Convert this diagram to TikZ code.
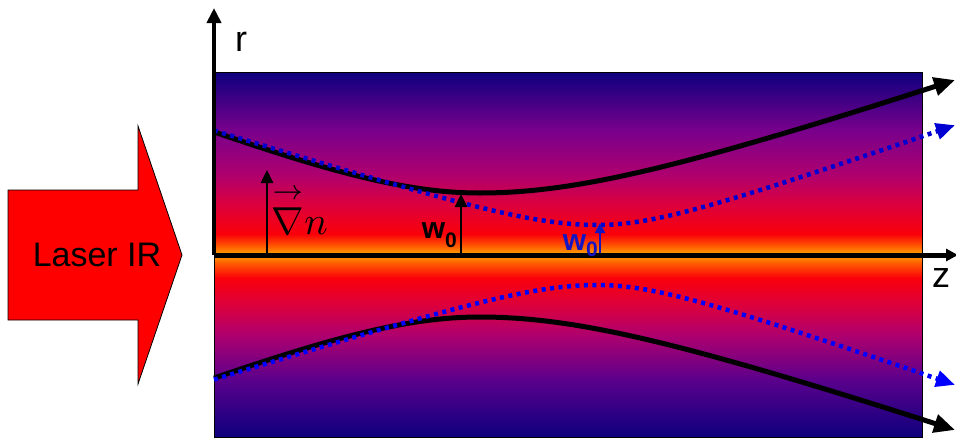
\documentclass[tikz,border=0pt]{standalone}
\usepackage{amsmath}
\usepackage{fontspec}
\setmainfont{Liberation Sans}
\usetikzlibrary{arrows.meta}
\definecolor{deepnavy}{RGB}{13,0,125}
\definecolor{deeppurple}{RGB}{90,0,140}
\definecolor{midpurple}{RGB}{120,0,140}
\definecolor{magent}{RGB}{175,0,110}
\definecolor{rosered}{RGB}{220,0,60}
\definecolor{hotred}{RGB}{250,0,10}
\definecolor{hotorange}{RGB}{255,100,0}
\definecolor{hotcore}{RGB}{255,170,0}
\definecolor{beamblue}{RGB}{0,0,210}
\definecolor{beambluelow}{RGB}{0,0,255}
\definecolor{waistblue}{RGB}{20,20,195}
\pgfdeclareverticalshading{fiber}{100bp}{color(0bp)=(deepnavy); color(25bp)=(deepnavy); color(32.8bp)=(deeppurple); color(39bp)=(magent); color(43.1bp)=(rosered); color(46.8bp)=(hotred); color(49bp)=(hotorange); color(50bp)=(hotcore); color(51bp)=(hotorange); color(52.8bp)=(hotred); color(56.8bp)=(rosered); color(60.9bp)=(magent); color(67bp)=(midpurple); color(75bp)=(deepnavy); color(100bp)=(deepnavy)}

\begin{document}
\begin{tikzpicture}[x=1pt, y=-1pt,
    beam/.style={line width=5pt, -{Triangle[length=21pt,width=18pt]}},
    dotbeam/.style={line width=4.5pt, dash pattern=on 4pt off 4.5pt, -{Triangle[length=19pt,width=16pt]}},
    vecarrow/.style={line width=2.5pt, -{Triangle[length=13pt,width=12pt]}},
    lbl/.style={inner sep=0pt, font=\fontsize{36}{36}\selectfont}]
    \useasboundingbox (0,0) rectangle (956,437);

    \shade[shading=fiber] (214,72) rectangle (922,437);
    \draw[line width=1pt] (214,72) rectangle (922,437);

    \draw[beam] plot[smooth, domain=214:480, samples=30] (\x, {255-62*sqrt(1+((\x-480)/155)^2)})
        -- plot[smooth, domain=480:955, samples=40] (\x, {255-62*sqrt(1+((\x-480)/180)^2)});
    \draw[beam] plot[smooth, domain=214:480, samples=30] (\x, {255+62*sqrt(1+((\x-480)/155)^2)})
        -- plot[smooth, domain=480:955, samples=40] (\x, {255+62*sqrt(1+((\x-480)/180)^2)});
    \draw[dotbeam, beamblue] plot[smooth, domain=214:597, samples=40] (\x, {255-30*sqrt(1+((\x-597)/95)^2)})
        -- plot[smooth, domain=597:955, samples=40] (\x, {255-30*sqrt(1+((\x-597)/85)^2)});
    \draw[dotbeam, beambluelow] plot[smooth, domain=214:597, samples=40] (\x, {255+30*sqrt(1+((\x-597)/95)^2)})
        -- plot[smooth, domain=597:955, samples=40] (\x, {255+30*sqrt(1+((\x-597)/85)^2)});

    \coordinate (origin) at (214,255);
    \coordinate (rtip) at (214,8);
    \coordinate (ztip) at (958,255);
    \coordinate (gradbase) at (267,255);
    \coordinate (gradtop) at (267,170);
    \coordinate (waistbase) at (461,255);
    \coordinate (waisttop) at (461,194);
    \coordinate (bluebase) at (600,255);
    \coordinate (bluetop) at (600,223);

    \draw[vecarrow] (gradbase) -- (gradtop);
    \draw[vecarrow] (waistbase) -- (waisttop);
    \draw[waistblue, line width=2pt, -{Triangle[length=10pt,width=10pt]}] (bluebase) -- (bluetop);

    \draw[line width=4pt, -{Triangle[length=15pt,width=14pt]}] (origin) -- (rtip);
    \draw[line width=5pt, -{Triangle[length=12pt,width=12pt]}] (origin) -- (ztip);

    \node[lbl] (rlabel) at (241,42) {r};
    \node[lbl] (zlabel) at (941,278) {z};

    \node[inner sep=0pt, anchor=base west, scale=3.9] (gradn) at (271,234) {$\overset{\rightarrow}{\nabla}n$};
    \node[inner sep=0pt, anchor=base east, font=\fontsize{30}{30}\selectfont\bfseries] (waistlabel) at (457,238) {w{\fontsize{21}{21}\selectfont\raisebox{-9pt}{0}}};
    \node[inner sep=0pt, anchor=base east, text=waistblue, font=\fontsize{30}{30}\selectfont\bfseries] (bluelabel) at (598,250) {w{\fontsize{21}{21}\selectfont\raisebox{-6pt}{0}}};

    \draw[fill=red, line width=0.8pt] (8,190) -- (138,190) -- (138,126) -- (182,255) -- (138,384) -- (138,320) -- (8,320) -- cycle;
    \node[inner sep=0pt, font=\fontsize{34}{34}\selectfont] (laser) at (97,255) {Laser IR};
\end{tikzpicture}
\end{document}
